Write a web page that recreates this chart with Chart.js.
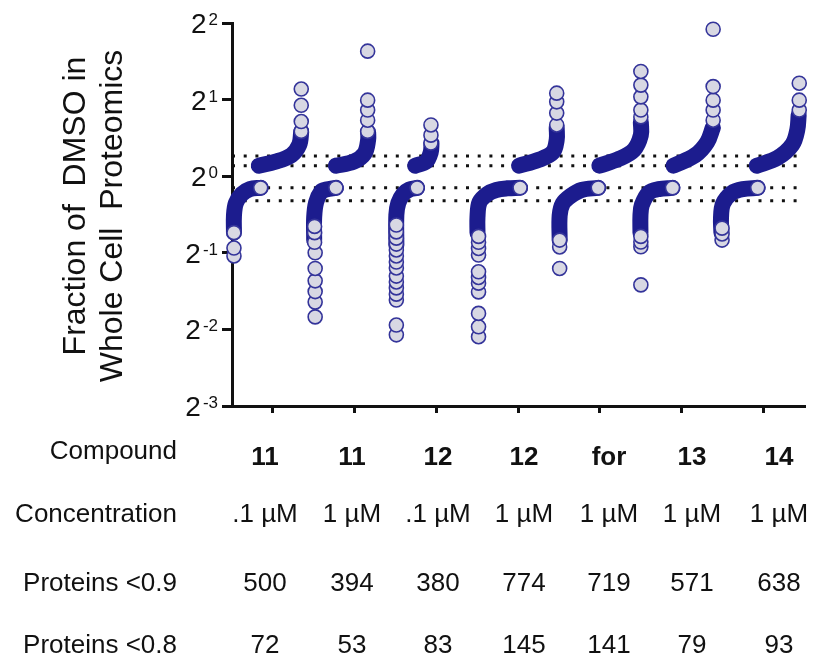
<!DOCTYPE html>
<html>
<head>
<meta charset="utf-8">
<title>Fraction of DMSO in Whole Cell Proteomics</title>
<script src="https://cdn.jsdelivr.net/npm/chart.js@4"></script>
<style>
  body { margin: 0; background: #fff; }
  canvas { display: block; }
</style>
</head>
<body>
<canvas id="proteomics" width="813" height="665"></canvas>
<script>
// table rows under the plot
const compounds = ['11', '11', '12', '12', 'for', '13', '14'];
const concentrations = ['.1 µM', '1 µM', '.1 µM', '1 µM', '1 µM', '1 µM', '1 µM'];
const below09 = [500, 394, 380, 774, 719, 571, 638];
const below08 = [72, 53, 83, 145, 141, 79, 93];

const yTicks = [0.125, 0.25, 0.5, 1, 2, 4];
const cutoffs = [1.2, 1.1, 0.9, 0.8];

// [spread within column, fraction of DMSO]
// dense part of each ranked cluster (drawn as a thick stroke)
const downBand = [
    [[-0.476, 0.60], [-0.476, 0.70], [-0.452, 0.785], [-0.379, 0.851], [-0.282, 0.89], [-0.149, 0.9]],
    [[-0.495, 0.56], [-0.495, 0.69], [-0.471, 0.79], [-0.410, 0.87], [-0.350, 0.886], [-0.229, 0.9]],
    [[-0.490, 0.535], [-0.490, 0.704], [-0.466, 0.785], [-0.406, 0.851], [-0.333, 0.886], [-0.236, 0.9]],
    [[-0.498, 0.60], [-0.498, 0.69], [-0.473, 0.79], [-0.377, 0.851], [-0.268, 0.883], [-0.134, 0.896], [0.023, 0.9]],
    [[-0.493, 0.56], [-0.493, 0.70], [-0.456, 0.78], [-0.360, 0.836], [-0.226, 0.883], [-0.021, 0.9]],
    [[-0.505, 0.60], [-0.505, 0.70], [-0.488, 0.77], [-0.403, 0.86], [-0.282, 0.89], [-0.113, 0.9]],
    [[-0.515, 0.60], [-0.520, 0.685], [-0.495, 0.78], [-0.386, 0.86], [-0.253, 0.89], [-0.071, 0.9]]
];
const upBand = [
    [[-0.173, 1.10], [0.033, 1.14], [0.226, 1.21], [0.323, 1.33], [0.347, 1.50]],
    [[-0.229, 1.10], [-0.011, 1.14], [0.122, 1.23], [0.165, 1.39], [0.165, 1.49]],
    [[-0.260, 1.10], [-0.127, 1.14], [-0.070, 1.24], [-0.060, 1.35]],
    [[0.011, 1.10], [0.253, 1.16], [0.422, 1.24], [0.471, 1.39], [0.471, 1.55]],
    [[-0.008, 1.10], [0.234, 1.17], [0.416, 1.27], [0.500, 1.45], [0.500, 1.63]],
    [[-0.100, 1.10], [0.166, 1.21], [0.311, 1.36], [0.380, 1.55]],
    [[-0.083, 1.10], [0.171, 1.18], [0.352, 1.33], [0.413, 1.52], [0.430, 1.74]]
];
// separate proteins at the ends of each cluster
const downDots = [
    [[-0.476, 0.486], [-0.476, 0.522], [-0.476, 0.60], [-0.149, 0.9]],
    [[-0.483, 0.28], [-0.483, 0.32], [-0.483, 0.352], [-0.483, 0.388], [-0.483, 0.434], [-0.483, 0.50],
     [-0.490, 0.55], [-0.490, 0.60], [-0.490, 0.635], [-0.229, 0.9]],
    [[-0.490, 0.238], [-0.490, 0.26], [-0.490, 0.326], [-0.490, 0.344], [-0.490, 0.364], [-0.490, 0.384],
     [-0.490, 0.405], [-0.490, 0.436], [-0.490, 0.46], [-0.490, 0.486], [-0.490, 0.513], [-0.490, 0.541],
     [-0.490, 0.571], [-0.490, 0.604], [-0.490, 0.643], [-0.236, 0.9]],
    [[-0.485, 0.234], [-0.485, 0.256], [-0.485, 0.289], [-0.485, 0.351], [-0.485, 0.38], [-0.485, 0.40],
     [-0.485, 0.421], [-0.485, 0.49], [-0.485, 0.52], [-0.485, 0.55], [-0.485, 0.58], [0.023, 0.9]],
    [[-0.493, 0.434], [-0.493, 0.527], [-0.493, 0.561], [-0.021, 0.9]],
    [[-0.500, 0.374], [-0.500, 0.528], [-0.500, 0.551], [-0.500, 0.58], [-0.113, 0.9]],
    [[-0.507, 0.561], [-0.507, 0.593], [-0.507, 0.625], [-0.071, 0.9]]
];
const upDots = [
    [[0.347, 1.50], [0.347, 1.64], [0.347, 1.90], [0.347, 2.20]],
    [[0.159, 1.50], [0.159, 1.66], [0.159, 1.82], [0.159, 1.99], [0.159, 3.10]],
    [[-0.067, 1.35], [-0.067, 1.45], [-0.067, 1.59]],
    [[0.471, 1.59], [0.471, 1.77], [0.471, 1.96], [0.471, 2.12]],
    [[0.500, 1.71], [0.500, 1.82], [0.500, 2.05], [0.500, 2.28], [0.500, 2.58]],
    [[0.384, 1.66], [0.384, 1.82], [0.384, 1.99], [0.384, 2.25], [0.384, 3.78]],
    [[0.437, 1.82], [0.437, 1.99], [0.437, 2.32]]
];

const NAVY = '#1c1c8e';
const DOT_FILL = '#d8d8e3';
const DOT_EDGE = '#34349a';
const FONT = '"Liberation Sans", Arial, sans-serif';

function toPoints(list, col) {
    return list.map(p => ({ x: col + p[0], y: p[1] }));
}

const datasets = [];

cutoffs.forEach(c => {
    datasets.push({
        data: [{ x: -0.5, y: c }, { x: 6.5, y: c }],
        borderColor: '#111',
        borderWidth: 3,
        borderDash: [3, 8.7],
        pointRadius: 0,
        order: 3,
        clip: false
    });
});

compounds.forEach((name, i) => {
    [downBand[i], upBand[i]].forEach(band => {
        datasets.push({
            data: toPoints(band, i),
            borderColor: NAVY,
            borderWidth: 16,
            borderCapStyle: 'round',
            borderJoinStyle: 'round',
            tension: 0.35,
            pointRadius: 0,
            order: 2,
            clip: false
        });
    });
    [downDots[i], upDots[i]].forEach(dots => {
        datasets.push({
            data: toPoints(dots, i),
            showLine: false,
            pointRadius: 7,
            pointBorderWidth: 1.6,
            pointBackgroundColor: DOT_FILL,
            pointBorderColor: DOT_EDGE,
            order: 1,
            clip: false
        });
    });
});

// superscript tick labels, rotated axis title and the summary table
const textPlugin = {
    id: 'textPlugin',
    afterDraw(chart) {
        const ctx = chart.ctx;
        const yScale = chart.scales.y;
        ctx.save();
        ctx.fillStyle = '#111';

        // 2^n labels
        ctx.textAlign = 'right';
        ctx.textBaseline = 'alphabetic';
        yTicks.forEach(v => {
            const y = yScale.getPixelForValue(v);
            const exp = String(Math.round(Math.log2(v)));
            ctx.font = '17px ' + FONT;
            ctx.fillText(exp, 218, y + 2);
            const w = ctx.measureText(exp).width;
            ctx.font = '28px ' + FONT;
            ctx.fillText('2', 218 - w - 2, y + 10);
        });

        // y axis title, two lines
        ctx.font = '32px ' + FONT;
        ctx.textAlign = 'center';
        [['Fraction of  DMSO in', 85, 206], ['Whole Cell  Proteomics', 122, 216]].forEach(([t, x, y]) => {
            ctx.save();
            ctx.translate(x, y);
            ctx.rotate(-Math.PI / 2);
            ctx.fillText(t, 0, 0);
            ctx.restore();
        });

        // table
        const colX = [265, 352, 438, 524, 609, 692, 779];
        const rows = [
            { label: 'Compound', values: compounds, labelY: 459, y: 465, bold: true },
            { label: 'Concentration', values: concentrations, labelY: 522, y: 522 },
            { label: 'Proteins <0.9', values: below09, labelY: 591, y: 591 },
            { label: 'Proteins <0.8', values: below08, labelY: 653, y: 653 }
        ];
        rows.forEach(r => {
            ctx.font = '26px ' + FONT;
            ctx.textAlign = 'right';
            ctx.fillText(r.label, 177, r.labelY);
            ctx.font = (r.bold ? 'bold ' : '') + '26px ' + FONT;
            ctx.textAlign = 'center';
            r.values.forEach((v, i) => ctx.fillText(String(v), colX[i], r.y));
        });
        ctx.restore();
    }
};

new Chart(document.getElementById('proteomics'), {
    type: 'line',
    data: { datasets: datasets },
    options: {
        responsive: false,
        animation: false,
        events: [],
        layout: { padding: { top: 23, right: 2, left: 172, bottom: 249 } },
        plugins: { legend: { display: false }, tooltip: { enabled: false } },
        scales: {
            x: {
                type: 'linear',
                min: -0.5,
                max: 6.5,
                afterBuildTicks: scale => { scale.ticks = compounds.map((c, i) => ({ value: i })); },
                afterFit: scale => { scale.height = 10; },
                ticks: { display: false },
                grid: { drawOnChartArea: false, drawTicks: true, tickLength: 7, lineWidth: 3, color: '#111' },
                border: { display: true, color: '#111', width: 3 }
            },
            y: {
                type: 'logarithmic',
                min: 0.125,
                max: 4,
                afterBuildTicks: scale => { scale.ticks = yTicks.map(v => ({ value: v })); },
                afterFit: scale => { scale.width = 60; },
                ticks: { display: false },
                grid: { drawOnChartArea: false, drawTicks: true, tickLength: 10, lineWidth: 3, color: '#111' },
                border: { display: true, color: '#111', width: 3 }
            }
        }
    },
    plugins: [textPlugin]
});
</script>
</body>
</html>
